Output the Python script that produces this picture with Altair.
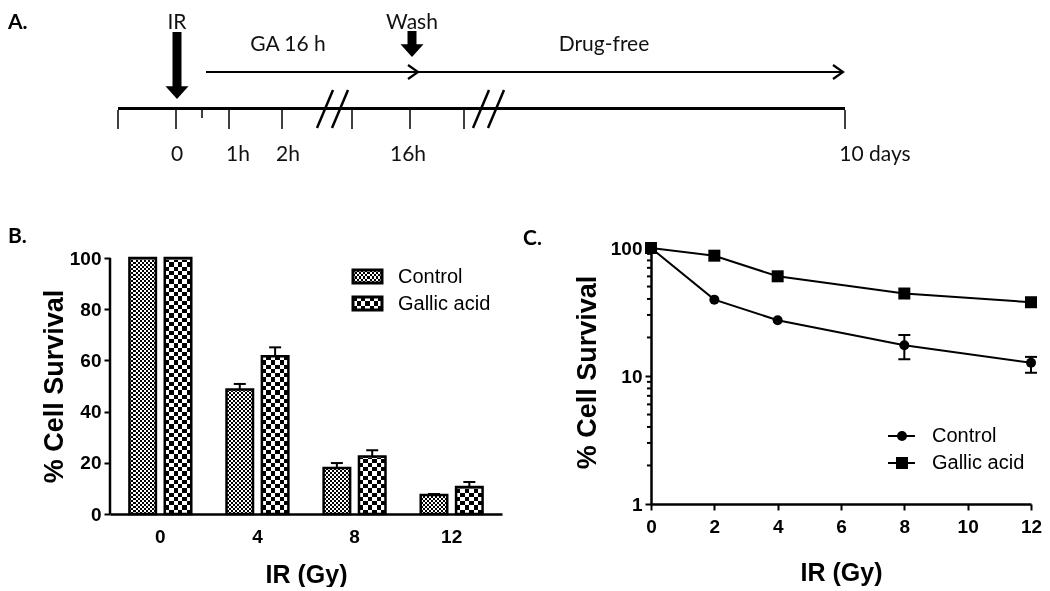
import altair as alt
import pandas as pd

# ---------------- Panel A: treatment schedule (schematic timeline units) ----------------
tl_span = [110, 837]
tl_ticks = [110, 168, 221, 274, 344, 402, 456, 837]
tl_minor_ticks = [194]
tl_labels = ["0", "1h", "2h", "16h", "10 days"]
tl_label_pos = [169, 230, 280, 400, 867]
tl_break_start = [309, 324, 465, 480]
tl_break_end = [325, 340, 481, 496]
phase_names = ["GA 16 h", "Drug-free"]
phase_start = [198, 410]
phase_end = [410, 835]
phase_label_pos = [280, 596]
event_names = ["IR", "Wash"]
event_pos = [169, 404]
event_shaft_top = [24, 23]
event_shaft_bottom = [80, 37]
event_head = [84, 42]

# ---------------- Panel B: clonogenic survival, bar chart ----------------
doses_b = ["0", "4", "8", "12"]
groups = ["Control", "Gallic acid"]
control_mean = [100, 48.6, 18.0, 7.4]
control_sem = [0, 2.2, 1.9, 0.4]
gallic_mean = [100, 61.6, 22.5, 10.5]
gallic_sem = [0, 3.5, 2.4, 2.0]
b_ticks = [0, 20, 40, 60, 80, 100]

# ---------------- Panel C: survival curves (log scale) ----------------
doses_c = [0, 2, 4, 8, 12]
control_surv = [100, 39.5, 27.3, 17.4, 12.7]
control_low = [100, 39.5, 27.3, 13.5, 10.6]
control_high = [100, 39.5, 27.3, 20.9, 14.1]
gallic_surv = [100, 87.1, 60.1, 44.1, 37.7]
c_xticks = [0, 2, 4, 6, 8, 10, 12]
log_major = [1, 10, 100]
log_minor = [2, 3, 4, 5, 6, 7, 8, 9, 20, 30, 40, 50, 60, 70, 80, 90]

SANS = "Liberation Sans"
CAL = "Lato"


def stripes(n, direction):
    stops = []
    for i in range(n):
        col = "#000000" if i % 2 == 0 else "#ffffff"
        stops.append({"offset": i / n, "color": col})
        stops.append({"offset": (i + 1) / n, "color": col})
    if direction == "h":
        return {"gradient": "linear", "x1": 0, "y1": 0, "x2": 0, "y2": 1, "stops": stops}
    return {"gradient": "linear", "x1": 0, "y1": 0, "x2": 1, "y2": 0, "stops": stops}


# ======================= Panel A =======================
A_LEFT, A_RIGHT = 102, 1034
AXS = alt.Scale(domain=[A_LEFT, A_RIGHT], nice=False, zero=False)
AYS = alt.Scale(domain=[0, 170], nice=False, zero=False, reverse=True)


def ax(f):
    return alt.X(f, type="quantitative", scale=AXS, axis=None)


def ay(f):
    return alt.Y(f, type="quantitative", scale=AYS, axis=None)


AXIS_Y = 100.5
TICK_TOP, TICK_BOTTOM, MINOR_BOTTOM = 102, 121, 110
BREAK_LOW, BREAK_HIGH = 120, 82
PHASE_Y, PHASE_LABEL_Y, TICK_LABEL_Y = 64, 37, 147
TOP_TEXT_Y = 4

df_axis = pd.DataFrame({"x0": [tl_span[0]], "x1": [tl_span[1]], "y": [AXIS_Y]})
main_line = alt.Chart(df_axis).mark_rule(color="black", strokeWidth=3).encode(
    x=ax("x0"), x2=alt.X2("x1"), y=ay("y"))

df_ticks = pd.DataFrame({"x": tl_ticks, "y0": TICK_TOP, "y1": TICK_BOTTOM})
ticks_a = alt.Chart(df_ticks).mark_rule(color="black", strokeWidth=1.5).encode(
    x=ax("x"), y=ay("y0"), y2=alt.Y2("y1"))

df_minor = pd.DataFrame({"x": tl_minor_ticks, "y0": TICK_TOP, "y1": MINOR_BOTTOM})
minor_a = alt.Chart(df_minor).mark_rule(color="black", strokeWidth=1.5).encode(
    x=ax("x"), y=ay("y0"), y2=alt.Y2("y1"))

df_breaks = pd.DataFrame({"x0": tl_break_start, "x1": tl_break_end,
                          "y0": BREAK_LOW, "y1": BREAK_HIGH})
breaks_a = alt.Chart(df_breaks).mark_rule(color="black", strokeWidth=2.5).encode(
    x=ax("x0"), x2=alt.X2("x1"), y=ay("y0"), y2=alt.Y2("y1"))

df_phase = pd.DataFrame({"name": phase_names, "x0": phase_start, "x1": phase_end,
                         "lx": phase_label_pos, "y": PHASE_Y, "ly": PHASE_LABEL_Y})
phase_lines = alt.Chart(df_phase).mark_rule(color="black", strokeWidth=2).encode(
    x=ax("x0"), x2=alt.X2("x1"), y=ay("y"))
phase_heads = alt.Chart(df_phase).mark_point(
    shape="M-1,-0.7L0,0L-1,0.7", size=400, filled=False, color="black",
    strokeWidth=2.2, opacity=1).encode(x=ax("x1"), y=ay("y"))
phase_text = alt.Chart(df_phase).mark_text(
    font=CAL, fontSize=21, color="#111111", align="center", baseline="middle").encode(
    x=ax("lx"), y=ay("ly"), text="name:N")

df_event = pd.DataFrame({"name": event_names, "x": event_pos, "y0": event_shaft_top,
                         "y1": event_shaft_bottom, "yh": event_head, "ty": TOP_TEXT_Y})
event_shafts = alt.Chart(df_event).mark_rule(color="black", strokeWidth=9).encode(
    x=ax("x"), y=ay("y0"), y2=alt.Y2("y1"))
event_heads = alt.Chart(df_event).mark_point(
    shape="M-1,-0.5L1,-0.5L0,0.6Z", size=529, filled=True, color="black",
    opacity=1).encode(x=ax("x"), y=ay("yh"))
event_text = alt.Chart(df_event).mark_text(
    font=CAL, fontSize=21, color="#111111", align="center", baseline="top").encode(
    x=ax("x"), y=ay("ty"), text="name:N")

df_tl = pd.DataFrame({"label": tl_labels, "x": tl_label_pos, "y": TICK_LABEL_Y})
tl_text = alt.Chart(df_tl).mark_text(
    font=CAL, fontSize=21, color="#111111", align="center", baseline="middle").encode(
    x=ax("x"), y=ay("y"), text="label:N")

label_a = alt.Chart(pd.DataFrame({"t": ["A."]})).mark_text(
    font=CAL, fontSize=21, fontWeight="bold", align="left", baseline="top",
    color="black").encode(x=alt.value(-A_LEFT), y=alt.value(TOP_TEXT_Y), text="t:N")

panel_a = alt.layer(
    main_line, ticks_a, minor_a, breaks_a, phase_lines, phase_heads, phase_text,
    event_shafts, event_heads, event_text, tl_text, label_a
).properties(width=A_RIGHT - A_LEFT, height=170)

# ======================= Panel B =======================
df_b = pd.DataFrame({
    "dose": doses_b * 2,
    "group": [groups[0]] * 4 + [groups[1]] * 4,
    "mean": control_mean + gallic_mean,
    "sem": control_sem + gallic_sem,
})
df_b["hi"] = df_b["mean"] + df_b["sem"]

B_HEIGHT = 266           # plot area; 100 % sits 10 px below its top
B_TOP = 100 * B_HEIGHT / 256

xb = alt.X("dose:N", sort=doses_b,
           scale=alt.Scale(domain=doses_b, paddingInner=0.363, paddingOuter=0.2),
           axis=alt.Axis(title="IR (Gy)", labelAngle=0, ticks=False, tickSize=0,
                         labelPadding=13, titlePadding=16, labelFlush=False))
xob = alt.XOffset("group:N", sort=groups,
                  scale=alt.Scale(domain=groups, paddingInner=0.25, paddingOuter=0))
yb_scale = alt.Scale(domain=[0, B_TOP], nice=False, zero=False)
yb_axis = alt.Axis(values=b_ticks, title="% Cell Survival", tickSize=6, domain=False,
                   labelPadding=3, titlePadding=1, titleY=138, labelFlush=False)


def yb(f):
    return alt.Y(f, type="quantitative", scale=yb_scale, axis=yb_axis)


pattern_cells = {"Control": (128, 13), "Gallic acid": (60, 6)}

b_layers = []
# y axis line from 0 to 100 %
b_layers.append(
    alt.Chart(pd.DataFrame({"lo": [b_ticks[0]], "hi": [b_ticks[-1]]})).mark_rule(
        color="black", strokeWidth=2.5).encode(x=alt.value(0), y=yb("hi"), y2=alt.Y2("lo")))
for g in groups:
    nh, nv = pattern_cells[g]
    b_layers.append(
        alt.Chart(df_b).transform_filter(alt.datum.group == g).mark_bar(
            fill=stripes(nh, "h")).encode(
            x=xb, xOffset=xob, y=alt.YDatum(100, scale=yb_scale, axis=yb_axis),
            y2=alt.Y2Datum(0)))
b_layers.append(
    alt.Chart(df_b).mark_bar(fill="white", stroke="white", strokeWidth=3).encode(
        x=xb, xOffset=xob, y=yb("mean"), y2=alt.Y2Datum(100)))
for g in groups:
    nh, nv = pattern_cells[g]
    b_layers.append(
        alt.Chart(df_b).transform_filter(alt.datum.group == g).mark_bar(
            fill=stripes(nv, "v"), blend="difference").encode(
            x=xb, xOffset=xob, y=yb("mean"), y2=alt.Y2Datum(0)))
b_layers.append(
    alt.Chart(df_b).mark_bar(fillOpacity=0, stroke="black", strokeWidth=2.5).encode(
        x=xb, xOffset=xob, y=yb("mean"), y2=alt.Y2Datum(0)))
err_b = alt.Chart(df_b).transform_filter(alt.datum.sem > 0)
b_layers.append(err_b.mark_rule(color="black", strokeWidth=2).encode(
    x=xb, xOffset=xob, y=yb("mean"), y2=alt.Y2("hi")))
b_layers.append(err_b.mark_tick(color="black", thickness=2, size=12,
                                orient="horizontal", opacity=1).encode(
    x=xb, xOffset=xob, y=yb("hi")))

# legend of panel B
leg_b_rows = {"Control": (22, 6, 14), "Gallic acid": (49, 3, 7)}
for g in groups:
    y0, nh, nv = leg_b_rows[g]
    one = pd.DataFrame({"label": [g]})
    pos = dict(x=alt.value(243), x2=alt.value(272), y=alt.value(y0), y2=alt.value(y0 + 13))
    b_layers.append(alt.Chart(one).mark_rect(fill=stripes(nh, "h")).encode(**pos))
    b_layers.append(alt.Chart(one).mark_rect(fill=stripes(nv, "v"), blend="difference").encode(**pos))
    b_layers.append(alt.Chart(one).mark_rect(fillOpacity=0, stroke="black", strokeWidth=3).encode(**pos))
    b_layers.append(alt.Chart(one).mark_text(
        font=SANS, fontSize=20, align="left", baseline="middle", color="black").encode(
        x=alt.value(288), y=alt.value(y0 + 6.5), text="label:N"))

b_layers.append(alt.Chart(pd.DataFrame({"t": ["B."]})).mark_text(
    font=CAL, fontSize=21, fontWeight="bold", align="left", baseline="top",
    color="black").encode(x=alt.value(-102), y=alt.value(-22), text="t:N"))

panel_b = alt.layer(*b_layers).properties(width=392, height=B_HEIGHT)

# ======================= Panel C =======================
df_c = pd.DataFrame({
    "dose": doses_c * 2,
    "series": [groups[0]] * 5 + [groups[1]] * 5,
    "surv": control_surv + gallic_surv,
})
df_cerr = pd.DataFrame({"dose": doses_c, "lo": control_low, "hi": control_high})
df_cerr = df_cerr[df_cerr["hi"] > df_cerr["lo"]]

xc_scale = alt.Scale(domain=[0, 12], nice=False, zero=False)
xc_axis = alt.Axis(values=c_xticks, title="IR (Gy)", tickSize=6, labelPadding=7,
                   titlePadding=24, labelFlush=False)
yc_scale = alt.Scale(type="log", domain=[1, 100], nice=False)
yc_axis = alt.Axis(values=log_major, format="d", title="% Cell Survival", tickSize=6,
                   labelPadding=3, titlePadding=9, titleY=124, labelFlush=False)


def xc(f):
    return alt.X(f, type="quantitative", scale=xc_scale, axis=xc_axis)


def yc(f):
    return alt.Y(f, type="quantitative", scale=yc_scale, axis=yc_axis)


c_minor = alt.Chart(pd.DataFrame({"v": log_minor})).mark_rule(
    color="black", strokeWidth=2).encode(x=alt.value(-4), x2=alt.value(0), y=yc("v"))
c_lines = alt.Chart(df_c).mark_line(color="black", strokeWidth=2).encode(
    x=xc("dose"), y=yc("surv"), detail="series:N")
c_points = alt.Chart(df_c).mark_point(filled=True, color="black", opacity=1).encode(
    x=xc("dose"), y=yc("surv"),
    shape=alt.Shape("series:N", scale=alt.Scale(domain=groups, range=["circle", "square"]),
                    legend=None),
    size=alt.Size("series:N", scale=alt.Scale(domain=groups, range=[100, 144]), legend=None))
c_err = alt.Chart(df_cerr).mark_rule(color="black", strokeWidth=2).encode(
    x=xc("dose"), y=yc("lo"), y2=alt.Y2("hi"))
c_caps = alt.Chart(df_cerr).transform_fold(["lo", "hi"], as_=["end", "v"]).mark_tick(
    color="black", thickness=2, size=12, orient="horizontal", opacity=1).encode(
    x=xc("dose"), y=yc("v:Q"))

c_layers = [c_minor, c_lines, c_err, c_caps, c_points]
leg_c_rows = {"Control": (188, "circle", 100), "Gallic acid": (215, "square", 144)}
for g in groups:
    yy, shp, sz = leg_c_rows[g]
    one = pd.DataFrame({"label": [g]})
    c_layers.append(alt.Chart(one).mark_rule(color="black", strokeWidth=2).encode(
        x=alt.value(237), x2=alt.value(264), y=alt.value(yy)))
    c_layers.append(alt.Chart(one).mark_point(
        shape=shp, size=sz, filled=True, color="black", opacity=1).encode(
        x=alt.value(251), y=alt.value(yy)))
    c_layers.append(alt.Chart(one).mark_text(
        font=SANS, fontSize=20, align="left", baseline="middle", color="black").encode(
        x=alt.value(281), y=alt.value(yy), text="label:N"))

c_layers.append(alt.Chart(pd.DataFrame({"t": ["C."]})).mark_text(
    font=CAL, fontSize=21, fontWeight="bold", align="left", baseline="top",
    color="black").encode(x=alt.value(-128), y=alt.value(-20), text="t:N"))

panel_c = alt.layer(*c_layers).properties(width=380, height=256)

# ======================= compose =======================
bottom = alt.hconcat(panel_b, panel_c, spacing=21).resolve_scale(
    x="independent", y="independent")
chart = alt.vconcat(panel_a, bottom, spacing=48).resolve_scale(
    x="independent", y="independent").properties(
    padding=0, background="white"
).configure_view(stroke=None).configure_axis(
    domainColor="black", domainWidth=2.5, tickColor="black", tickWidth=2,
    labelColor="black", titleColor="black", labelFont=SANS, titleFont=SANS,
    labelFontWeight="bold", titleFontWeight="bold", labelFontSize=19,
    grid=False
).configure_axisX(titleFontSize=25).configure_axisY(titleFontSize=27)

chart.save("out.html", embed_options={"renderer": "svg", "actions": False})
